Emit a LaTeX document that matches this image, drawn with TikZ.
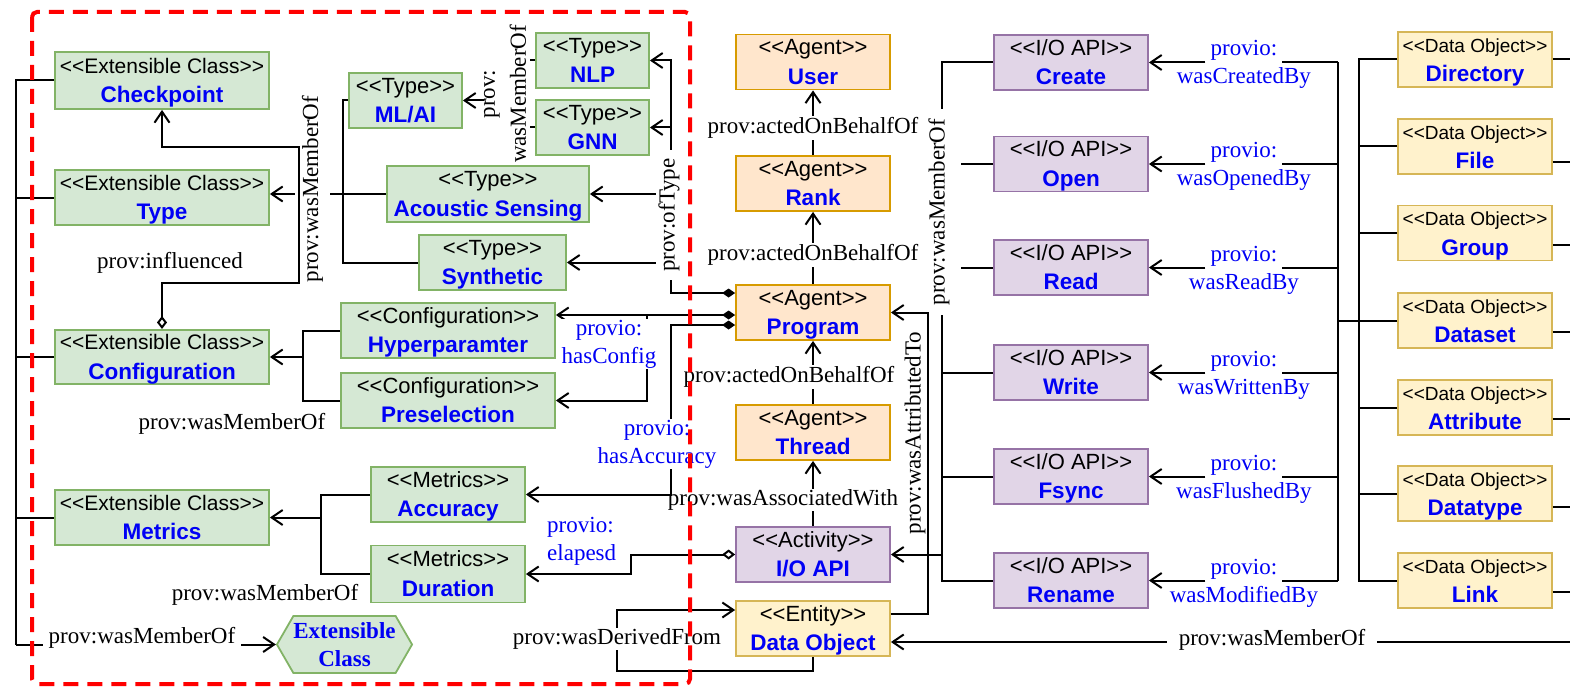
\documentclass[tikz,border=0pt]{standalone}
\usepackage{fontspec}
\setmainfont{Liberation Serif}
\setsansfont{Liberation Sans}
\usetikzlibrary{arrows.meta,shapes.symbols,calc}

\definecolor{gfill}{HTML}{D5E8D4}\definecolor{gdraw}{HTML}{82B366}
\definecolor{ofill}{HTML}{FFE6CC}\definecolor{odraw}{HTML}{D79B00}
\definecolor{pfill}{HTML}{E1D5E7}\definecolor{pdraw}{HTML}{9673A6}
\definecolor{yfill}{HTML}{FFF2CC}\definecolor{ydraw}{HTML}{D6B656}
\definecolor{nameblue}{RGB}{0,0,245}

% two-line UML-like box text: <<stereotype>> over a bold blue name
\newcommand{\bx}[3]{{\fontsize{#1}{29.5}\selectfont\rule{0pt}{20pt}<\kern0pt<#2>\kern0pt>}\\{\fontsize{22.5}{29.5}\selectfont\bfseries\textcolor{nameblue}{#3}\rule[-4.7pt]{0pt}{4.7pt}}}

\begin{document}
\begin{tikzpicture}[x=1pt,y=-1pt,
  conn/.style={line width=2pt, draw=black},
  barb/.tip={Straight Barb[length=11pt,width=15pt]},
  arr/.style={conn,-barb},
  dia/.style={conn,{Diamond[length=13pt,width=9pt]}-barb},
  odia/.style={conn,{Diamond[open,length=13pt,width=10pt]}-barb},
  box/.style={draw, line width=1.8pt, inner sep=0pt, align=center,
              font=\sffamily\fontsize{22}{29.5}\selectfont},
  ext/.style={box, fill=gfill, draw=gdraw, minimum height=55pt},
  agent/.style={box, fill=ofill, draw=odraw, minimum width=154pt, minimum height=55pt},
  act/.style={box, fill=pfill, draw=pdraw, minimum width=154pt, minimum height=55pt},
  dobj/.style={box, fill=yfill, draw=ydraw, minimum width=154pt, minimum height=55pt},
  lbl/.style={font=\fontsize{23}{28}\selectfont, inner sep=1pt},
  blbl/.style={lbl, text=nameblue},
  wlbl/.style={lbl, fill=white}
]
\useasboundingbox (0,0) rectangle (1570,687);

% ---------- extensible classes ----------
\node[ext, minimum width=214pt, minimum height=57pt] (Checkpoint) at (162,80.5) {\bx{21}{Extensible Class}{Checkpoint}};
\node[ext, minimum width=214pt] (Type) at (162,197.5) {\bx{21}{Extensible Class}{Type}};
\node[ext, minimum width=214pt, minimum height=54pt] (Configuration) at (162,357) {\bx{21}{Extensible Class}{Configuration}};
\node[ext, minimum width=214pt] (Metrics) at (162,517.5) {\bx{21}{Extensible Class}{Metrics}};

\node[ext, minimum width=113pt] (MLAI) at (405.5,100.5) {\bx{22}{Type}{ML/AI}};
\node[ext, minimum width=113pt] (NLP) at (592.5,60.5) {\bx{22}{Type}{NLP}};
\node[ext, minimum width=113pt] (GNN) at (592.5,127.5) {\bx{22}{Type}{GNN}};
\node[ext, minimum width=202pt, minimum height=56pt] (Acoustic) at (488,194) {\bx{22}{Type}{Acoustic Sensing}};
\node[ext, minimum width=147pt] (Synthetic) at (492.5,262.5) {\bx{22}{Type}{Synthetic}};

\node[ext, minimum width=214pt] (Hyper) at (448,330.5) {\bx{22}{Configuration}{Hyperparamter}};
\node[ext, minimum width=214pt] (Presel) at (448,400.5) {\bx{22}{Configuration}{Preselection}};

\node[ext, minimum width=154pt] (Accuracy) at (448,494.5) {\bx{22}{Metrics}{Accuracy}};
\node[ext, minimum width=154pt, minimum height=57pt] (Duration) at (448,574) {\bx{22}{Metrics}{Duration}};

\node[signal, signal to=west and east, signal pointer angle=120, draw=gdraw, fill=gfill,
      line width=1.8pt, minimum width=135pt, minimum height=57pt, inner sep=0pt,
      align=center, font=\bfseries\fontsize{23}{28}\selectfont, text=nameblue]
      (ExtClass) at (344.5,644.5) {Extensible\\Class};

% ---------- agents, activity, entity ----------
\node[agent] (User) at (813,62) {\bx{22}{Agent}{User}};
\node[agent] (Rank) at (813,183.5) {\bx{22}{Agent}{Rank}};
\node[agent] (Program) at (813,312.5) {\bx{22}{Agent}{Program}};
\node[agent] (Thread) at (813,432.5) {\bx{22}{Agent}{Thread}};
\node[act] (IOAPI) at (813,554.5) {\bx{22}{Activity}{I/O API}};
\node[dobj] (DataObj) at (813,628.5) {\bx{22}{Entity}{Data Object}};

% ---------- I/O API calls ----------
\node[act] (Create) at (1071,62.5) {\bx{22}{I/O API}{Create}};
\node[act] (Open) at (1071,164) {\bx{22}{I/O API}{Open}};
\node[act] (Read) at (1071,267.5) {\bx{22}{I/O API}{Read}};
\node[act] (Write) at (1071,372.5) {\bx{22}{I/O API}{Write}};
\node[act] (Fsync) at (1071,476.5) {\bx{22}{I/O API}{Fsync}};
\node[act] (Rename) at (1071,580.5) {\bx{22}{I/O API}{Rename}};

% ---------- data objects ----------
\node[dobj] (Directory) at (1475,59.5) {\bx{19}{Data Object}{Directory}};
\node[dobj] (File) at (1475,146.5) {\bx{19}{Data Object}{File}};
\node[dobj] (Group) at (1475,233) {\bx{19}{Data Object}{Group}};
\node[dobj] (Dataset) at (1475,320.5) {\bx{19}{Data Object}{Dataset}};
\node[dobj] (Attribute) at (1475,407.5) {\bx{19}{Data Object}{Attribute}};
\node[dobj] (Datatype) at (1475,493.5) {\bx{19}{Data Object}{Datatype}};
\node[dobj] (Link) at (1475,580.5) {\bx{19}{Data Object}{Link}};

% ---------- helper coordinates ----------
\coordinate (lbT) at (16,80.5);
\coordinate (lbB) at (16,644.5);
\coordinate (inA) at (299,283);
\coordinate (inB) at (299,147);
\coordinate (tb) at (343,262.5);
\coordinate (nlpS) at (530,60.5);
\coordinate (gnnS) at (530,127.5);
\coordinate (mlS) at (484,100.5);
\coordinate (yOT) at (0,293);
\coordinate (otT) at (671,60.5);
\coordinate (yHC) at (0,315);
\coordinate (hcJ) at (647,315);
\coordinate (yHA) at (0,325);
\coordinate (haC) at (671,494.5);
\coordinate (cb) at (303,400.5);
\coordinate (mb) at (321,574);
\coordinate (elJ) at (631,574);
\coordinate (yWA) at (0,614);
\coordinate (waC) at (928,312.5);
\coordinate (ioB) at (942,580.5);
\coordinate (opS) at (961,164);
\coordinate (rdS) at (961,267.5);
\coordinate (dA) at (1338,0);
\coordinate (dB) at (1359,580.5);
\coordinate (rb) at (1576,642);
\coordinate (wdB) at (813,671);
\coordinate (wdL) at (617,610);
\coordinate (yWD) at (0,610);

% ---------- extensible class membership ----------
\draw[conn] (Checkpoint.west) -- (lbT) -- (lbB);
\foreach \n in {Type,Configuration,Metrics} \draw[conn] (\n.west) -- (\n.west -| lbT);
\draw[arr] (lbB) -- (ExtClass.west);
\node[wlbl, inner xsep=6pt] (mExt) at (142,638) {prov:wasMemberOf};

% ---------- types ----------
\draw[conn] (MLAI.west) -| (tb) -- (Synthetic.west);
\draw[arr] (Acoustic.west) -- (Acoustic.west -| Type.east);
\node[wlbl, rotate=90, inner ysep=7pt] (mType) at (312.5,189) {prov:wasMemberOf};

\draw[conn] (NLP.west) -- (nlpS);
\draw[conn] (GNN.west) -- (gnnS);
\draw[arr] (mlS) -- (MLAI.east);
\node[lbl, rotate=90, align=center, font=\fontsize{23}{31}\selectfont] (mML) at (505,94) {prov:\\wasMemberOf};

% influenced: Configuration -> Checkpoint
\draw[odia] (Configuration.north) |- (inA) -- (inB) -| (Checkpoint.south);
\node[lbl] (infl) at (170,263) {prov:influenced};

% ofType: Program -> types
\draw[dia] (Program.west |- yOT) -| (otT) -- (NLP.east);
\foreach \n in {GNN,Acoustic,Synthetic} \draw[arr] (\n.east -| otT) -- (\n.east);
\node[wlbl, rotate=90, inner xsep=8pt, inner ysep=2pt] (oT) at (669,215) {prov:ofType};

% ---------- configuration ----------
\draw[conn] (Hyper.west) -| (cb) -- (Presel.west);
\draw[arr] (Configuration.east -| cb) -- (Configuration.east);
\node[lbl] (mCfg) at (232,424) {prov:wasMemberOf};

\draw[dia] (Program.west |- yHC) -- (Hyper.east |- yHC);
\draw[arr] (hcJ) |- (Presel.east);
\node[blbl, fill=white, align=center] (hc) at (609,344) {provio:\\hasConfig};

% ---------- metrics ----------
\draw[conn] (Accuracy.west) -| (mb) -- (Duration.west);
\draw[arr] (Metrics.east -| mb) -- (Metrics.east);
\node[lbl] (mMet) at (265,595) {prov:wasMemberOf};

\draw[odia] (IOAPI.west) -| (elJ) -- (Duration.east);
\node[blbl, align=left, anchor=west] (el) at (546,541) {provio:\\elapesd};

% ---------- agent chain ----------
\draw[arr] (Rank.north) -- (User.south);
\draw[arr] (Program.north) -- (Rank.south);
\draw[arr] (Thread.north) -- (Program.south);
\draw[arr] (IOAPI.north) -- (Thread.south);
\node[wlbl] (ab1) at (813,128) {prov:actedOnBehalfOf};
\node[wlbl] (ab2) at (813,255) {prov:actedOnBehalfOf};
\node[wlbl] (ab3) at (789,377) {prov:actedOnBehalfOf};
\node[wlbl] (aw) at (783,500) {prov:wasAssociatedWith};

% hasAccuracy: Program -> Accuracy
\draw[dia] (Program.west |- yHA) -| (haC) -- (Accuracy.east);
\node[blbl, fill=white, align=center] (ha) at (657,444) {provio:\\hasAccuracy};

% ---------- I/O API membership ----------
\draw[conn] (Create.west) -| (ioB) -- (Rename.west);
\foreach \n in {Write,Fsync} \draw[conn] (\n.west) -- (\n.west -| ioB);
\draw[conn] (Open.west) -- (opS);
\draw[conn] (Read.west) -- (rdS);
\draw[arr] (IOAPI.east -| ioB) -- (IOAPI.east);
\node[wlbl, rotate=90, inner xsep=10pt, inner ysep=2pt] (mIO) at (939,212) {prov:wasMemberOf};

% wasAttributedTo: Data Object -> Program
\draw[arr] (DataObj.east |- yWA) -| (waC) -- (Program.east);
\node[lbl, rotate=90] (wa) at (915,433) {prov:wasAttributedTo};

% ---------- data object buses ----------
\draw[conn] (Directory.west) -| (dB) -- (Link.west);
\foreach \n in {File,Group,Attribute,Datatype} \draw[conn] (\n.west) -- (\n.west -| dB);
\draw[conn] (Dataset.west) -- (Dataset.west -| dA);
\draw[conn] (Create.east -| dA) -- (Rename.east -| dA);

\foreach \n/\w [count=\i] in {Create/wasCreatedBy, Open/wasOpenedBy, Read/wasReadBy,
    Write/wasWrittenBy, Fsync/wasFlushedBy, Rename/wasModifiedBy} {
  \node[blbl, anchor=base, inner xsep=5pt] (pv\i) at ($(\n.east)+(95,-6.5)$) {provio:};
  \node[blbl, anchor=base] (pw\i) at ($(\n.east)+(95,21.5)$) {\w};
  \draw[arr] (pv\i.west |- \n.east) -- (\n.east);
  \draw[conn] (\n.east -| dA) -- (pv\i.east |- \n.east);
}

% right-hand membership of the data objects
\draw[conn] (Directory.east) -- (Directory.east -| rb);
\foreach \n/\o in {File/15.5, Group/12, Dataset/11.5, Attribute/11.5, Datatype/13.5, Link/11.5}
  \draw[conn] ($(\n.east)+(0,\o)$) -- ($(\n.east -| rb)+(0,\o)$);
\draw[conn] (Directory.east -| rb) -- (rb);
\draw[arr] (rb) -- (DataObj.east |- rb);
\node[wlbl, inner xsep=12pt] (mDO) at (1272,640) {prov:wasMemberOf};

% wasDerivedFrom: Data Object -> Data Object
\draw[arr] (DataObj.south) -- (wdB) -| (wdL) -- (DataObj.west |- yWD);
\node[wlbl] (wd) at (617,639) {prov:wasDerivedFrom};

% ---------- extensible region frame ----------
\draw[red, line width=4pt, dash pattern=on 15pt off 9pt, rounded corners=5pt]
  (32,12) rectangle (690,684);
\end{tikzpicture}
\end{document}
